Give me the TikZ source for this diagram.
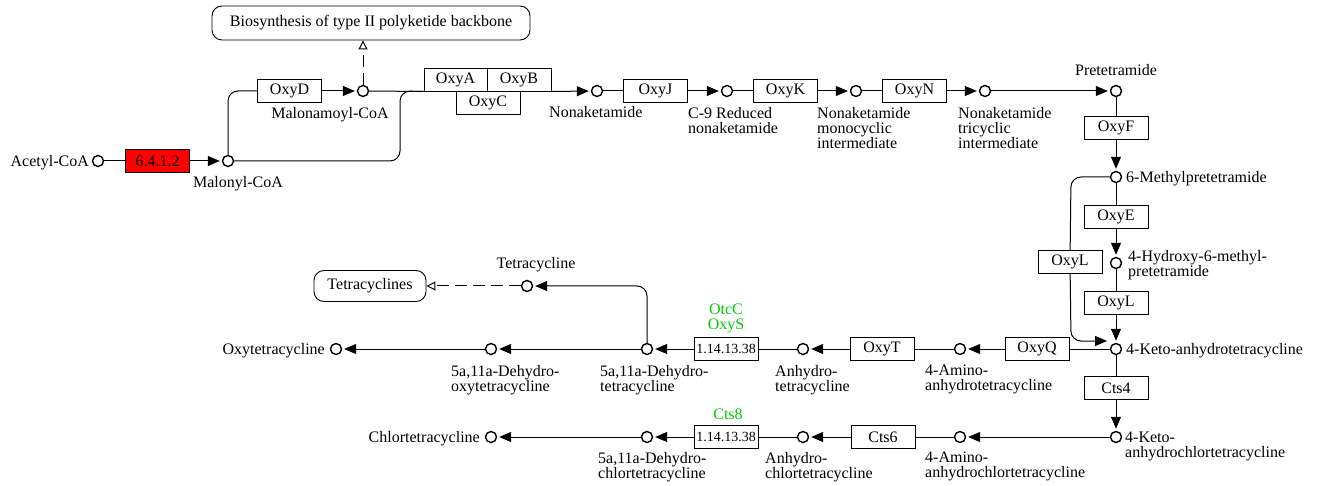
\documentclass[tikz,border=0pt]{standalone}
\usepackage{fontspec}
\setmainfont{Liberation Serif}
\usetikzlibrary{arrows.meta}
\definecolor{kgreen}{RGB}{0,204,0}
\begin{document}
\begin{tikzpicture}[x=1pt,y=-1pt,
  every node/.style={font=\fontsize{16}{15}\selectfont},
  cpd/.style={circle,draw,line width=1.4pt,fill=white,minimum size=11pt,inner sep=0pt},
  enz/.style={draw,line width=0.9pt,minimum width=64pt,minimum height=23pt,inner sep=0pt,fill=white},
  ecbox/.style={enz,font=\fontsize{14}{14}\selectfont},
  lbl/.style={inner sep=0pt,align=left},
  glbl/.style={inner sep=0pt,align=center,text=kgreen},
  conn/.style={line width=1pt},
  arr/.style={conn,-{Triangle[length=12pt,width=10pt]},shorten >=2pt},
  mapref/.style={draw,line width=0.9pt,rounded corners=10pt,inner sep=0pt},
  link/.style={line width=1pt,dash pattern=on 12pt off 6pt,-{Triangle[open,length=9pt,width=9pt,line width=1pt]}},
]
\useasboundingbox (0,0) rectangle (1325,486);
\fill[white] (0,0) rectangle (1325,486);

% map references
\node[mapref,minimum width=318pt,minimum height=34pt] (bio) at (371,23) {Biosynthesis of type II polyketide backbone};
\node[mapref,minimum width=112pt,minimum height=31pt] (tcs) at (370,286) {Tetracyclines};

% compounds
\node[cpd] (acetyl) at (98,161) {};
\node[cpd] (malonyl) at (228,161) {};
\node[cpd] (malonamoyl) at (363,91) {};
\node[cpd] (nonaket) at (597,91) {};
\node[cpd] (c9) at (727,91) {};
\node[cpd] (monocyc) at (856,91) {};
\node[cpd] (tricyc) at (985,91) {};
\node[cpd] (pretet) at (1116,91) {};
\node[cpd] (methyl) at (1116,177) {};
\node[cpd] (hydroxy) at (1116,263) {};
\node[cpd] (keto) at (1116,349) {};
\node[cpd] (aminoanh) at (960,349) {};
\node[cpd] (anhtc) at (803,349) {};
\node[cpd] (dehtc) at (647,349) {};
\node[cpd] (dehotc) at (491,349) {};
\node[cpd] (otc) at (336,349) {};
\node[cpd] (tc) at (527,286) {};
\node[cpd] (ketochl) at (1116,437) {};
\node[cpd] (aminochl) at (960,437) {};
\node[cpd] (anhchl) at (803,437) {};
\node[cpd] (dehchl) at (647,437) {};
\node[cpd] (ctc) at (491,437) {};

% enzymes
\node[enz,fill=red] (e6412) at (157.5,161) {6.4.1.2};
\node[enz] (oxyD) at (289.5,91) {OxyD};
\node[enz,minimum width=63pt] (oxyA) at (455.5,79.5) {OxyA};
\node[enz] (oxyB) at (519,79.5) {OxyB};
\node[enz] (oxyC) at (488,102.5) {OxyC};
\node[enz] (oxyJ) at (655.5,91) {OxyJ};
\node[enz] (oxyK) at (785.5,91) {OxyK};
\node[enz] (oxyN) at (914.5,91) {OxyN};
\node[enz] (oxyF) at (1116,128) {OxyF};
\node[enz] (oxyE) at (1116,216.5) {OxyE};
\node[enz] (oxyL) at (1116,302.5) {OxyL};
\node[enz] (oxyLs) at (1070,262) {OxyL};
\node[enz] (oxyQ) at (1037,349) {OxyQ};
\node[enz] (oxyT) at (882,349) {OxyT};
\node[ecbox] (ec1) at (726,349) {1.14.13.38};
\node[enz] (cts4) at (1116,388) {Cts4};
\node[enz] (cts6) at (883,437) {Cts6};
\node[ecbox] (ec2) at (726,437) {1.14.13.38};

% gene labels
\node[glbl,anchor=north] (g1) at (726,304) {OtcC\\OxyS};
\node[glbl,anchor=base] (g2) at (728,419) {Cts8};

% compound labels
\node[lbl,anchor=base east] at (89,167) {Acetyl-CoA};
\node[lbl,anchor=base] at (238,188) {Malonyl-CoA};
\node[lbl,anchor=base] at (330,119) {Malonamoyl-CoA};
\node[lbl,anchor=base west] at (549,118) {Nonaketamide};
\node[lbl,anchor=north west] at (688,107) {C-9 Reduced\\nonaketamide};
\node[lbl,anchor=north west] at (817,107) {Nonaketamide\\monocyclic\\intermediate};
\node[lbl,anchor=north west] at (958,107) {Nonaketamide\\tricyclic\\intermediate};
\node[lbl,anchor=base] at (1116,76) {Pretetramide};
\node[lbl,anchor=base west] at (1126,183) {6-Methylpretetramide};
\node[lbl,anchor=north west] at (1128,250) {4-Hydroxy-6-methyl-\\pretetramide};
\node[lbl,anchor=base west] at (1126,354) {4-Keto-anhydrotetracycline};
\node[lbl,anchor=north west] at (925,365) {4-Amino-\\anhydrotetracycline};
\node[lbl,anchor=north west] at (775,365) {Anhydro-\\tetracycline};
\node[lbl,anchor=north west] at (600,365) {5a,11a-Dehydro-\\tetracycline};
\node[lbl,anchor=north west] at (451,365) {5a,11a-Dehydro-\\oxytetracycline};
\node[lbl,anchor=base east] at (325,354) {Oxytetracycline};
\node[lbl,anchor=base] at (536,269) {Tetracycline};
\node[lbl,anchor=north west] at (1125,432) {4-Keto-\\anhydrochlortetracycline};
\node[lbl,anchor=north west] at (925,452) {4-Amino-\\anhydrochlortetracycline};
\node[lbl,anchor=north west] at (765,452) {Anhydro-\\chlortetracycline};
\node[lbl,anchor=north west] at (598,452) {5a,11a-Dehydro-\\chlortetracycline};
\node[lbl,anchor=base east] at (480,442) {Chlortetracycline};

% helper coordinates
\coordinate (mUp) at (228,91);
\coordinate (mRight) at (400,161);
\coordinate (mTop) at (400,91);
\coordinate (sTop) at (1071,177);
\coordinate (sBot) at (1071,341);
\coordinate (sEnd) at (1109,341);
\coordinate (tcCorner) at (647,286);

% connectors
\draw[conn] (acetyl) -- (e6412);
\draw[arr] (e6412) -- (malonyl);
\draw[conn,rounded corners=10pt] (malonyl) -- (mUp) -- (oxyD);
\draw[arr] (oxyD) -- (malonamoyl);
\draw[link] (malonamoyl) -- (malonamoyl |- bio.south);
\draw[conn] (malonamoyl) -- (oxyA.south west);
\draw[conn,rounded corners=10pt] (malonyl) -- (mRight) -- (mTop) -- (oxyA.south west);
\draw[arr] (oxyB.south east) -- (nonaket);
\draw[conn] (nonaket) -- (oxyJ);
\draw[arr] (oxyJ) -- (c9);
\draw[conn] (c9) -- (oxyK);
\draw[arr] (oxyK) -- (monocyc);
\draw[conn] (monocyc) -- (oxyN);
\draw[arr] (oxyN) -- (tricyc);
\draw[arr] (tricyc) -- (pretet);
\draw[conn] (pretet) -- (oxyF);
\draw[arr] (oxyF) -- (methyl);
\draw[conn] (methyl) -- (oxyE);
\draw[arr] (oxyE) -- (hydroxy);
\draw[conn] (hydroxy) -- (oxyL);
\draw[arr] (oxyL) -- (keto);
\draw[conn,rounded corners=10pt] (methyl) -- (sTop) -- (oxyLs);
\draw[arr,rounded corners=10pt] (oxyLs) -- (sBot) -- (sEnd);
\draw[conn] (keto) -- (oxyQ);
\draw[arr] (oxyQ) -- (aminoanh);
\draw[conn] (aminoanh) -- (oxyT);
\draw[arr] (oxyT) -- (anhtc);
\draw[conn] (anhtc) -- (ec1);
\draw[arr] (ec1) -- (dehtc);
\draw[arr] (dehtc) -- (dehotc);
\draw[arr] (dehotc) -- (otc);
\draw[arr,rounded corners=10pt] (dehtc) -- (tcCorner) -- (tc);
\draw[link] (tc) -- (tcs);
\draw[conn] (keto) -- (cts4);
\draw[arr] (cts4) -- (ketochl);
\draw[arr] (ketochl) -- (aminochl);
\draw[conn] (aminochl) -- (cts6);
\draw[arr] (cts6) -- (anhchl);
\draw[conn] (anhchl) -- (ec2);
\draw[arr] (ec2) -- (dehchl);
\draw[arr] (dehchl) -- (ctc);
\end{tikzpicture}
\end{document}
